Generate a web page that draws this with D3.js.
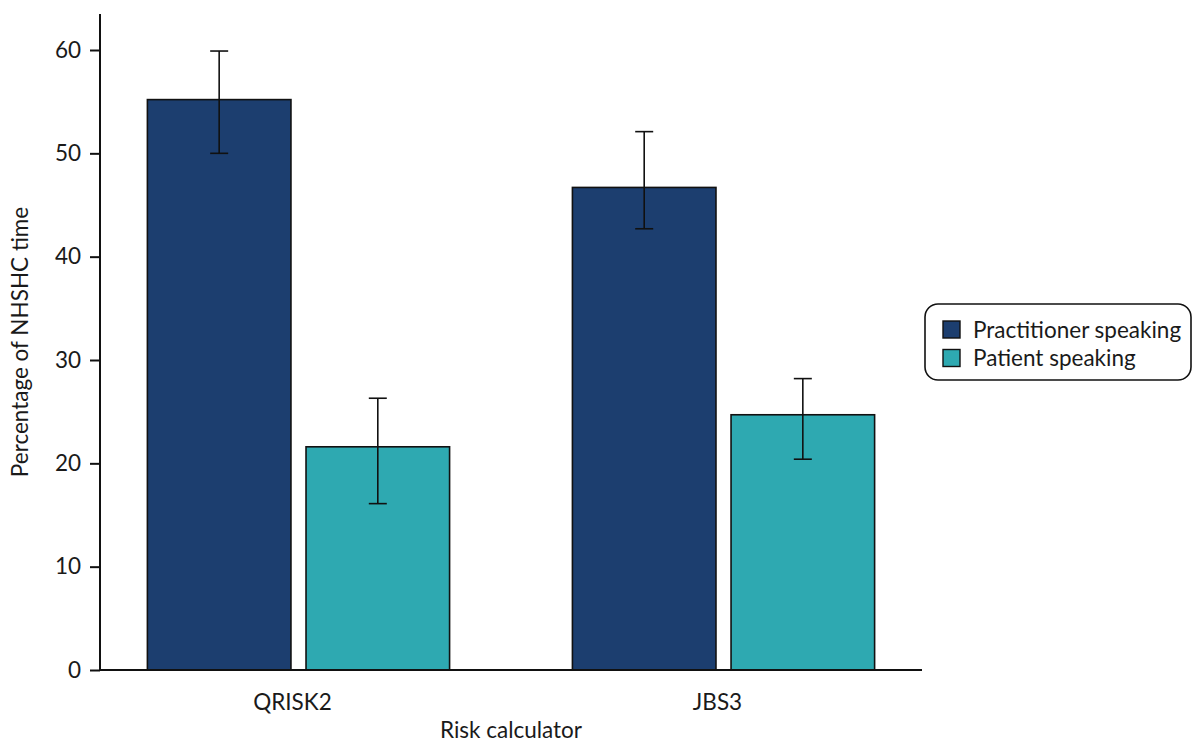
<!DOCTYPE html>
<html>
<head>
<meta charset="utf-8">
<script src="https://cdn.jsdelivr.net/npm/d3@7"></script>
<style>
  body { margin: 0; background: #fff; }
  text { font-family: Lato, "Open Sans", sans-serif; fill: #1a1a1a; }
</style>
</head>
<body>
<svg id="chart" width="1192" height="742"></svg>
<script>
var categories = ['QRISK2', 'JBS3'];
var seriesNames = ['Practitioner speaking', 'Patient speaking'];
var seriesColors = ['#1c3e6f', '#2ea9b1'];
// mean, lower, upper per calculator
var practitioner = [55.2, 46.7];
var practitionerLo = [50.0, 42.7];
var practitionerHi = [59.9, 52.1];
var patient = [21.6, 24.7];
var patientLo = [16.1, 20.4];
var patientHi = [26.3, 28.2];
var yTicks = [0, 10, 20, 30, 40, 50, 60];

var svg = d3.select('#chart');
var plotLeft = 100, plotRight = 922, plotTop = 14, plotBottom = 670;
var fontSize = '22.5px';

var y = d3.scaleLinear().domain([0, 60]).range([plotBottom, 50]);
var x0 = d3.scaleBand().domain(categories).range([plotLeft, plotRight])
  .paddingInner(0.289).paddingOuter(0.1115);
var x1 = d3.scaleBand().domain(seriesNames).range([0, x0.bandwidth()])
  .paddingInner(0.095).paddingOuter(0);

var rows = [];
categories.forEach(function(c, i) {
  rows.push({ cat: c, s: 0, v: practitioner[i], lo: practitionerLo[i], hi: practitionerHi[i] });
  rows.push({ cat: c, s: 1, v: patient[i], lo: patientLo[i], hi: patientHi[i] });
});

var g = svg.append('g');

g.selectAll('rect.bar')
  .data(rows)
  .enter().append('rect')
  .attr('class', 'bar')
  .attr('x', function(d) { return x0(d.cat) + x1(seriesNames[d.s]); })
  .attr('y', function(d) { return y(d.v); })
  .attr('width', x1.bandwidth())
  .attr('height', function(d) { return y(0) - y(d.v); })
  .attr('fill', function(d) { return seriesColors[d.s]; })
  .attr('stroke', '#111')
  .attr('stroke-width', 1.6);

// error bars
var capW = 9;
var err = g.selectAll('g.err').data(rows).enter().append('g')
  .attr('transform', function(d) {
    return 'translate(' + (x0(d.cat) + x1(seriesNames[d.s]) + x1.bandwidth() / 2) + ',0)';
  })
  .attr('stroke', '#111').attr('stroke-width', 1.6);
err.append('line').attr('y1', function(d) { return y(d.lo); }).attr('y2', function(d) { return y(d.hi); });
err.append('line').attr('x1', -capW).attr('x2', capW)
  .attr('y1', function(d) { return y(d.hi); }).attr('y2', function(d) { return y(d.hi); });
err.append('line').attr('x1', -capW).attr('x2', capW)
  .attr('y1', function(d) { return y(d.lo); }).attr('y2', function(d) { return y(d.lo); });

// axes
var yAxis = g.append('g').attr('transform', 'translate(' + plotLeft + ',0)')
  .call(d3.axisLeft(y).tickValues(yTicks).tickSize(10).tickPadding(9));
yAxis.select('.domain').remove();
yAxis.append('line').attr('y1', plotTop).attr('y2', plotBottom).attr('stroke', '#111').attr('stroke-width', 2);
yAxis.selectAll('.tick line').attr('stroke', '#111').attr('stroke-width', 2);
yAxis.selectAll('.tick text').style('font-size', fontSize).attr('fill', '#1a1a1a')
  .style('font-family', 'Lato, sans-serif');

var xAxis = g.append('g').attr('transform', 'translate(0,' + plotBottom + ')')
  .call(d3.axisBottom(x0).tickSize(0).tickPadding(24));
xAxis.select('.domain').remove();
xAxis.append('line').attr('x1', plotLeft).attr('x2', plotRight).attr('stroke', '#111').attr('stroke-width', 2);
xAxis.selectAll('.tick text').style('font-size', fontSize).attr('fill', '#1a1a1a')
  .style('font-family', 'Lato, sans-serif').attr('dx', -6);

svg.append('text')
  .attr('transform', 'translate(28,342) rotate(-90)')
  .attr('text-anchor', 'middle')
  .style('font-size', fontSize)
  .text('Percentage of NHSHC time');

svg.append('text')
  .attr('x', 511).attr('y', 738)
  .attr('text-anchor', 'middle')
  .style('font-size', fontSize)
  .text('Risk calculator');

// legend
var legend = svg.append('g').attr('transform', 'translate(925,304)');
legend.append('rect')
  .attr('x', 0).attr('y', 0).attr('width', 266).attr('height', 76)
  .attr('rx', 13).attr('fill', '#fff').attr('stroke', '#111').attr('stroke-width', 1.6);
var items = legend.selectAll('g.item').data(seriesNames).enter().append('g')
  .attr('transform', function(d, i) { return 'translate(18,' + (17 + i * 28.5) + ')'; });
items.append('rect').attr('width', 17).attr('height', 17)
  .attr('fill', function(d, i) { return seriesColors[i]; })
  .attr('stroke', '#111').attr('stroke-width', 1.4);
items.append('text').attr('x', 30).attr('y', 9).attr('dy', '0.35em')
  .style('font-size', fontSize)
  .text(function(d) { return d; });
</script>
</body>
</html>
